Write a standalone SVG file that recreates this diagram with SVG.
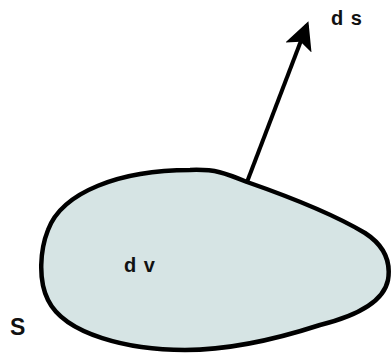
<svg xmlns="http://www.w3.org/2000/svg" width="391" height="357" viewBox="0 0 391 357">
<style>
text{font-family:"Liberation Sans",Arial,sans-serif;font-weight:bold;font-size:20px;fill:#111}
</style>
<defs>
<marker id="ah" markerWidth="8" markerHeight="8" refX="6" refY="4" orient="auto" markerUnits="strokeWidth">
<path d="M0,0.5 L7,4 L0,7.5 L1.5,4 Z" fill="#000"/>
</marker>
</defs>
<rect width="391" height="357" fill="#fff"/>
<g id="volume">
<path d="M 190 170 C 215 169, 225 173, 247 182 C 290 197, 335 215, 365 233 C 385 246, 391 262, 388 280 C 384 300, 360 315, 320 325 C 280 338, 230 350, 185 350 C 130 350, 65 335, 48 300 C 38 280, 40 250, 48 230 C 62 192, 120 170, 190 170 Z" fill="#d6e4e4" stroke="#000" stroke-width="4.5"/>
<text x="124" y="272" letter-spacing="1">d v</text>
</g>
<g id="surface"><text x="10" y="335" style="font-size:23px">S</text></g>
<g id="connectors">
<line x1="247" y1="182" x2="307" y2="25" stroke="#000" stroke-width="4" marker-end="url(#ah)"/>
</g>
<g id="ds"><text x="331" y="25" letter-spacing="1">d s</text></g>
</svg>
